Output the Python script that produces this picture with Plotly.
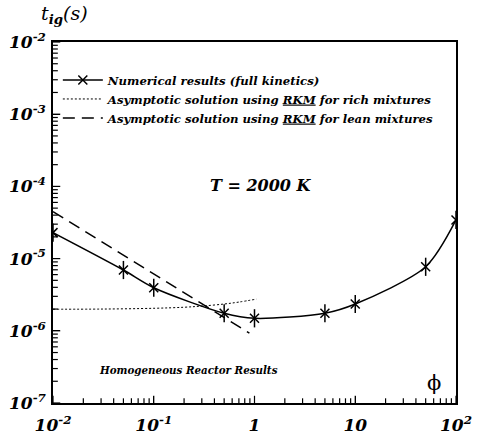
import plotly.graph_objects as go

# Equivalence ratio and ignition delay (s), full-kinetics computation
phi_num = [0.01, 0.05, 0.1, 0.5, 1.0, 5.0, 10.0, 50.0, 100.0]
t_num = [2.29e-5, 6.95e-6, 3.95e-6, 1.75e-6, 1.49e-6, 1.75e-6, 2.35e-6, 7.7e-6, 3.43e-5]

# Asymptotic solution (RKM), rich-mixture branch
phi_rich = [0.01, 0.03, 0.1, 0.2, 0.3, 0.5, 0.7, 1.05]
t_rich = [1.99e-6, 2.0e-6, 2.05e-6, 2.12e-6, 2.2e-6, 2.35e-6, 2.5e-6, 2.75e-6]

# Asymptotic solution (RKM), lean-mixture branch
phi_lean = [0.01, 0.89]
t_lean = [4.47e-5, 9.3e-7]

x_decades = [0.01, 0.1, 1, 10, 100]
x_labels = ["10<sup>-2</sup>", "10<sup>-1</sup>", "1", "10", "10<sup>2</sup>"]
y_decades = [1e-7, 1e-6, 1e-5, 1e-4, 1e-3, 1e-2]
y_labels = ["10<sup>-7</sup>", "10<sup>-6</sup>", "10<sup>-5</sup>",
            "10<sup>-4</sup>", "10<sup>-3</sup>", "10<sup>-2</sup>"]


def minor_ticks(decades):
    """Tick positions at 2..9 within each decade."""
    return [k * d for d in decades[:-1] for k in range(2, 10)]


x_minor = minor_ticks(x_decades)
y_minor = minor_ticks(y_decades)

FONT = "DejaVu Serif"

fig = go.Figure()

fig.add_trace(go.Scatter(
    x=phi_num, y=t_num, mode="lines+markers",
    name="<b><i>Numerical results (full kinetics)</i></b>",
    line=dict(color="black", width=1.5, shape="spline", smoothing=0.8),
    marker=dict(symbol="x-thin-open", size=9, color="black",
                line=dict(color="black", width=1.5)),
    legendgroup="num",
))
fig.add_trace(go.Scatter(
    x=phi_num, y=t_num, mode="markers", showlegend=False,
    marker=dict(symbol="line-ns-open", size=13, color="black",
                line=dict(color="black", width=1.5)),
    legendgroup="num",
))
fig.add_trace(go.Scatter(
    x=phi_rich, y=t_rich, mode="lines",
    name="<b><i>Asymptotic solution using <u>RKM</u> for rich mixtures</i></b>",
    line=dict(color="black", width=1, dash="2px,2px", shape="spline"),
))
fig.add_trace(go.Scatter(
    x=phi_lean, y=t_lean, mode="lines",
    name="<b><i>Asymptotic solution using <u>RKM</u> for lean mixtures</i></b>",
    line=dict(color="black", width=1.5, dash="12px,7px"),
))

axis_common = dict(
    type="log", showgrid=False, zeroline=False, automargin=False,
    showline=True, linecolor="black", linewidth=1.5, mirror=True,
    ticks="inside", ticklen=7, tickcolor="black", tickwidth=1.2,
    tickfont=dict(family=FONT, size=17, color="black", style="italic", weight="bold"),
)

fig.update_xaxes(range=[-2, 2], tickmode="array", tickvals=x_decades,
                 ticktext=x_labels, ticklabelstandoff=6, **axis_common)
fig.update_yaxes(range=[-7, -2], tickmode="array", tickvals=y_decades,
                 ticktext=y_labels, ticklabelstandoff=2, **axis_common)

# Inward tick marks along the bottom and left axes (decades longer than 2..9)
tick_shapes = []
for xv in x_decades + x_minor:
    h = 0.02 if xv in x_decades else 0.013
    tick_shapes.append(dict(type="line", xref="x", yref="y domain",
                            x0=xv, x1=xv, y0=0, y1=h,
                            line=dict(color="black", width=1.2)))
for yv in y_decades + y_minor:
    w = 0.018 if yv in y_decades else 0.012
    tick_shapes.append(dict(type="line", xref="x domain", yref="y",
                            x0=0, x1=w, y0=yv, y1=yv,
                            line=dict(color="black", width=1.2)))

fig.update_layout(
    width=485, height=439,
    margin=dict(l=53, r=29, t=42, b=36),
    paper_bgcolor="white", plot_bgcolor="white",
    font=dict(family=FONT, color="black"),
    shapes=tick_shapes,
    legend=dict(
        x=0.012, y=0.935, xanchor="left", yanchor="top",
        bgcolor="rgba(0,0,0,0)", borderwidth=0,
        font=dict(family=FONT, size=11.7, color="black"),
        itemwidth=40, tracegroupgap=0,
    ),
    annotations=[
        dict(text="<i>t</i><sub><b><i>ig</i></b></sub><i>(s)</i>", xref="paper", yref="paper",
             x=-0.035, y=1.075, xanchor="left", yanchor="middle", showarrow=False,
             font=dict(family=FONT, size=19, color="black")),
        dict(text="<b><i>T = 2000 K</i></b>", xref="paper", yref="paper",
             x=0.516, y=0.603, xanchor="center", yanchor="middle", showarrow=False,
             font=dict(family=FONT, size=16, color="black")),
        dict(text="<b><i>Homogeneous Reactor Results</i></b>", xref="paper", yref="paper",
             x=0.336, y=0.091, xanchor="center", yanchor="middle", showarrow=False,
             font=dict(family=FONT, size=10.3, color="black")),
        dict(text="ϕ", xref="paper", yref="paper",
             x=0.945, y=0.055, xanchor="center", yanchor="middle", showarrow=False,
             font=dict(family=FONT, size=21, color="black")),
    ],
)

fig.write_html("out.html")
